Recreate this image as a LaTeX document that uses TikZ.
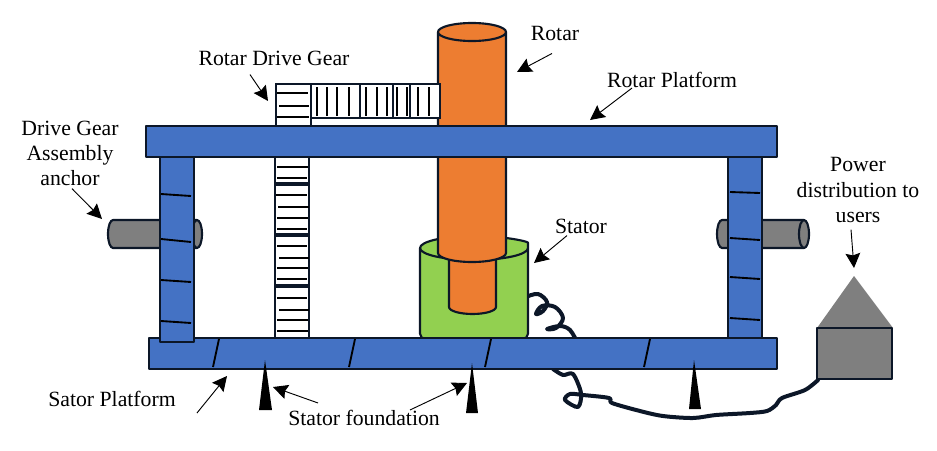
\documentclass[tikz,border=0pt]{standalone}
\usepackage{fontspec}
\setmainfont{Liberation Serif}
\usetikzlibrary{arrows.meta}
\definecolor{outline}{HTML}{0C1728}
\definecolor{partblue}{HTML}{4472C4}
\definecolor{partorange}{HTML}{ED7D31}
\definecolor{partgreen}{HTML}{92D050}
\definecolor{partgray}{HTML}{7F7F7F}
\begin{document}
\begin{tikzpicture}[x=.75pt, y=-.75pt, >={Stealth[length=11pt,width=11pt,inset=1.5pt]},
  part/.style={draw=outline, line width=1.6pt, line join=round},
  steel/.style={part, fill=partblue},
  rotarpart/.style={part, fill=partorange},
  shell/.style={part, fill=partgreen},
  housing/.style={part, fill=partgray},
  gearbox/.style={draw=outline, line width=1.5pt, fill=white},
  tick/.style={draw=black, line width=1.4pt},
  wire/.style={draw=outline, line width=3pt, line cap=round, line join=round},
  pointer/.style={->, draw=black, line width=.7pt},
  spike/.style={fill=black, draw=none},
  callout/.style={font=\fontsize{16.3}{18.8}\selectfont, align=center, inner sep=0pt, text=black}]
  \useasboundingbox (0,0) rectangle (937,450);

  % power cable, runs behind the lower platform
  \draw[wire] plot[smooth, tension=.6] coordinates {(526,297) (538,294) (547,302) (543,311) (536,314)
    (542,306) (555,307) (563,318) (556,328) (547,329) (560,326) (570,330) (577,342)};
  \draw[wire] plot[smooth, tension=.5] coordinates {(553,369) (563,375) (573,374) (581,393) (578,407)
    (565,400) (570,394) (583,395) (609,398) (612,403) (640,411) (663,416) (693,418) (716,415) (750,413) (767,411) (776,405)
    (782,398) (805,390) (818,380)};

  % anchors through the columns
  \draw[housing] (197,220) -- (113,220) arc[start angle=270, end angle=90, x radius=5, y radius=14] -- (197,248);
  \draw[housing] (197,234) ellipse[x radius=5, y radius=14];
  \draw[housing] (804,220) -- (722,220) arc[start angle=270, end angle=90, x radius=5, y radius=14] -- (804,248);
  \draw[housing] (804,234) ellipse[x radius=5, y radius=14];

  % stator and rotar
  \draw[shell] (420,248) -- (420,333) [rounded corners=4pt] -- (420,339) -- (528,339) -- (528,248) [sharp corners]
    arc[start angle=0, end angle=-180, x radius=54, y radius=12]
    arc[start angle=180, end angle=0, x radius=54, y radius=12];
  \draw[rotarpart] (449,255) -- (449,307) arc[start angle=180, end angle=0, x radius=23.5, y radius=7] -- (496,255) -- cycle;
  \draw[rotarpart] (438,32) -- (438,253) arc[start angle=180, end angle=0, x radius=34, y radius=9] -- (506,32)
    arc[start angle=0, end angle=-180, x radius=34, y radius=9]
    arc[start angle=180, end angle=0, x radius=34, y radius=9];

  % drive gear, vertical run
  \draw[gearbox] (275,157) rectangle (309,183);
  \draw[gearbox] (275,185) rectangle (309,234);
  \draw[gearbox] (275,236) rectangle (309,285);
  \draw[gearbox] (275,287) rectangle (309,338);
  \foreach \y/\a/\b in {167/277/308, 178/277/307, 195/276/307, 207/278/309, 218/277/308, 229/277/307,
      246/277/307, 258/279/309, 268/277/308, 279/277/307, 298/277/307, 310/279/309, 320/277/308, 331/277/308}
    \draw[tick] (\a,\y) -- (\b,\y);

  % drive gear, horizontal run
  \draw[gearbox] (276,84) rectangle (311,126);
  \draw[gearbox] (311,84) rectangle (360,118);
  \draw[gearbox] (360,84) rectangle (393,118);
  \draw[gearbox] (393,84) rectangle (410,118);
  \draw[gearbox] (410,84) rectangle (440,118);
  \foreach \y/\a/\b in {93/277/308, 106/279/309, 117/277/309}
    \draw[tick] (\a,\y) -- (\b,\y);
  \foreach \x in {317,327,337,349,366,377,387,397,407,418,429}
    \draw[tick] (\x,87) -- (\x,116);

  % platforms and columns
  \draw[steel] (149,338) rectangle (777,369);
  \draw[steel] (728,157) rectangle (762,338);
  \draw[steel] (160,157) rectangle (194,342);
  \draw[steel] (146,126) rectangle (777,157);

  \foreach \a/\b in {194/196, 239/242, 280/282, 321/323}
    \draw[tick] (161,\a) -- (191,\b);
  \foreach \a/\b in {192/193, 238/240, 277/279, 318/320}
    \draw[tick] (730,\a) -- (760,\b);
  \foreach \t/\b in {219/213, 355/349, 491/485, 650/644}
    \draw[tick] (\t,339) -- (\b,367);

  % foundation spikes
  \fill[spike] (265,360) -- (272,410) -- (259,410) -- cycle;
  \fill[spike] (472,363) -- (478,413) -- (466,413) -- cycle;
  \fill[spike] (694,360) -- (701,409) -- (689,409) -- cycle;

  % power house
  \fill[partgray] (854,276) -- (893,328) -- (817,328) -- cycle;
  \draw[housing] (817,328) rectangle (892,379);

  % labels
  \node[callout] (rotar) at (555,33) {Rotar};
  \node[callout] (drivegear) at (274,58) {Rotar Drive Gear};
  \node[callout] (rotarplatform) at (672,80) {Rotar Platform};
  \node[callout] (anchor) at (70,153) {Drive Gear\\Assembly\\anchor};
  \node[callout] (stator) at (581,226) {Stator};
  \node[callout] (power) at (858,190) {Power\\distribution to\\users};
  \node[callout] (satorplatform) at (112,399) {Sator Platform};
  \node[callout] (foundation) at (364,418) {Stator foundation};

  \coordinate (rotartip) at (517,72);
  \coordinate (geartip) at (268,101);
  \coordinate (platformtip) at (590,120);
  \coordinate (anchortip) at (102,219);
  \coordinate (statortip) at (534,263);
  \coordinate (powertip) at (854,268);
  \coordinate (satortip) at (227,376);
  \coordinate (lefttip) at (273,387);
  \coordinate (righttip) at (467,383);

  \draw[pointer] ([shift={(-3,13)}]rotar.south) -- (rotartip);
  \draw[pointer] ([shift={(-24,9)}]drivegear.south) -- (geartip);
  \draw[pointer] ([shift={(-40,0)}]rotarplatform.south) -- (platformtip);
  \draw[pointer] ([shift={(2,3)}]anchor.south) -- (anchortip);
  \draw[pointer] ([shift={(-14,2)}]stator.south) -- (statortip);
  \draw[pointer] ([shift={(-7,7)}]power.south) -- (powertip);
  \draw[pointer] ([shift={(21,6)}]satorplatform.south east) -- (satortip);
  \draw[pointer] ([shift={(-46,-7)}]foundation.north) -- (lefttip);
  \draw[pointer] ([shift={(46,0)}]foundation.north) -- (righttip);
\end{tikzpicture}
\end{document}
